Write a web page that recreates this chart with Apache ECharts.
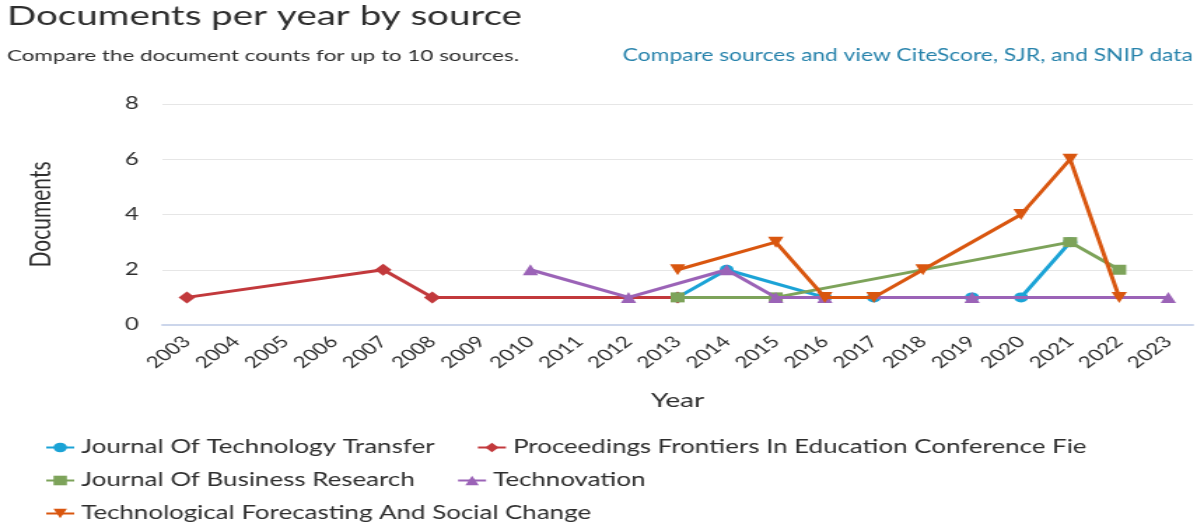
<!DOCTYPE html>
<html>
<head>
<meta charset="utf-8">
<script src="https://cdn.jsdelivr.net/npm/echarts@6/dist/echarts.min.js"></script>
<style>
html,body{margin:0;padding:0;overflow:hidden;background:#fff;width:1199px;height:529px;}
#chart{width:857px;height:529px;transform:scaleX(1.4);transform-origin:0 0;}
</style>
</head>
<body>
<div id="chart"></div>
<script>
var years = ['2003','2004','2005','2006','2007','2008','2009','2010','2011','2012','2013','2014','2015','2016','2017','2018','2019','2020','2021','2022','2023'];
var seriesNames = ['Journal Of Technology Transfer','Proceedings Frontiers In Education Conference Fie','Journal Of Business Research','Technovation','Technological Forecasting And Social Change'];
var jtt   = [null,null,null,null,null,null,null,null,null,null,1,2,null,1,1,null,1,1,3,null,null];
var fie   = [1,null,null,null,2,1,null,null,null,null,1,null,null,null,null,null,null,null,null,null,null];
var jbr   = [null,null,null,null,null,null,null,null,null,null,1,null,1,null,null,null,null,null,3,2,null];
var techn = [null,null,null,null,null,null,null,2,null,1,null,2,1,1,null,null,1,null,null,null,1];
var tfsc  = [null,null,null,null,null,null,null,null,null,null,2,null,3,1,1,2,null,4,6,1,null];
var yTicks = {min:0, max:8, interval:2};

var colors = ['#1ba3d6','#c2393c','#7da35a','#9b63b7','#d9560f'];
var symbols = ['circle','diamond','rect','triangle','triangle'];
var rots = [0,0,0,0,180];
var sizes = [10,12,10,11,11];
var dataSets = [jtt, fie, jbr, techn, tfsc];
var FONT = 'Lato';
var TXT = '#2e2e2e';

var series = dataSets.map(function(d,i){
  return {
    name: seriesNames[i], type:'line', data:d, connectNulls:true,
    symbol: symbols[i], symbolRotate: rots[i], symbolSize: sizes[i], showAllSymbol:true,
    itemStyle:{color:colors[i]}, lineStyle:{width:3, color:colors[i]},
    emphasis:{disabled:true}, animation:false, z: 2+i
  };
});

var legendBase = {
  orient:'horizontal', left:32, itemWidth:20, itemHeight:12, itemGap:30,
  textStyle:{fontFamily:FONT, fontSize:18.5, color:TXT}, padding:0
};

var option = {
  color: colors,
  animation:false,
  title:[
    {text:'Documents per year by source', left:5, top:2, padding:0,
     textStyle:{fontFamily:FONT, fontSize:27.5, fontWeight:'normal', color:TXT}},
    {text:'Compare the document counts for up to 10 sources.', left:5, top:48, padding:0,
     textStyle:{fontFamily:FONT, fontSize:16, fontWeight:'normal', color:TXT}},
    {text:'Compare sources and view CiteScore, SJR, and SNIP data', right:5, top:48, padding:0,
     textStyle:{fontFamily:FONT, fontSize:16.3, fontWeight:'normal', color:'#2682ab'}}
  ],
  legend:[
    Object.assign({}, legendBase, {top:438, data:[seriesNames[0], seriesNames[1]]}),
    Object.assign({}, legendBase, {top:471, data:[seriesNames[2], seriesNames[3]]}),
    Object.assign({}, legendBase, {top:504, data:[seriesNames[4]]})
  ],
  grid:{left:116, right:5, top:104, bottom:204, containLabel:false},
  xAxis:{
    type:'category', data:years, boundaryGap:true,
    name:'Year', nameLocation:'middle', nameGap:66,
    nameTextStyle:{fontFamily:FONT, fontSize:20, color:TXT},
    axisLine:{lineStyle:{color:'#ccd6eb', width:2}},
    axisTick:{show:false},
    axisLabel:{rotate:45, interval:0, margin:14, fontFamily:FONT, fontSize:16, color:TXT}
  },
  yAxis:{
    type:'value', min:yTicks.min, max:yTicks.max, interval:yTicks.interval,
    name:'Documents', nameLocation:'middle', nameGap:76, nameRotate:90,
    nameTextStyle:{fontFamily:FONT, fontSize:21, color:TXT},
    axisLine:{show:false}, axisTick:{show:false},
    axisLabel:{margin:17, fontFamily:FONT, fontSize:17, color:TXT},
    splitLine:{lineStyle:{color:'#e6e6e6', width:1}}
  },
  series: series
};

var chart = echarts.init(document.getElementById('chart'), null, {renderer:'canvas'});
chart.setOption(option);
</script>
</body>
</html>
